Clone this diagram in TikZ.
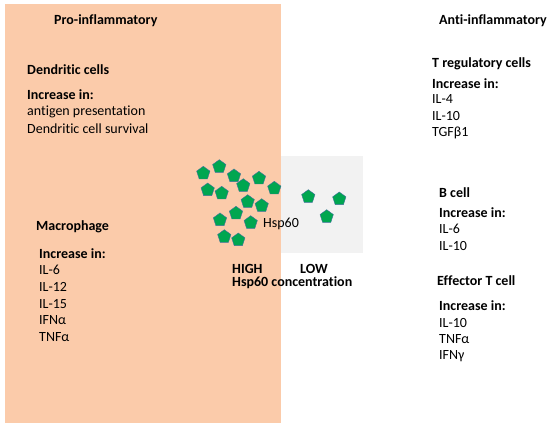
\documentclass[tikz,border=0pt]{standalone}
\usepackage{fontspec}
\setmainfont[Ligatures=NoCommon]{Carlito}
\usetikzlibrary{shapes.geometric}
\definecolor{proorange}{HTML}{FBCBAA}
\definecolor{lowgray}{HTML}{F2F2F2}
\definecolor{hspgreen}{HTML}{00A650}
\definecolor{hspedge}{HTML}{41719C}
\tikzset{
  lbl/.style={anchor=west,inner sep=0pt,font=\fontsize{14}{16}\selectfont},
  hdr/.style={lbl,font=\fontsize{14}{16}\selectfont\bfseries},
  hsp/.style={regular polygon,regular polygon sides=5,minimum size=14pt,inner sep=0pt,fill=hspgreen,draw=hspedge,line width=0.4pt}
}
\begin{document}
\begin{tikzpicture}[x=1pt,y=-1pt]
\useasboundingbox (0,0) rectangle (550,427);
\fill[white] (0,0) rectangle (550,427);
\fill[proorange] (5,4) rectangle (281,423);
\fill[lowgray] (281,156) rectangle (363,253);
% left
\node[hdr] (pro) at (54,21) {Pro-inflammatory};
\node[hdr] (dc) at (27,70) {Dendritic cells};
\node[hdr] (dcinc) at (27,95) {Increase in:};
\node[lbl] (dc1) at (27,112) {antigen presentation};
\node[lbl] (dc2) at (27,129) {Dendritic cell survival};
\node[hdr] (mac) at (36,227) {Macrophage};
\node[hdr] (macinc) at (39,254) {Increase in:};
\node[lbl] (m1) at (39,270) {IL-6};
\node[lbl] (m2) at (39,287) {IL-12};
\node[lbl] (m3) at (39,304) {IL-15};
\node[lbl] (m4) at (39,320) {IFNα};
\node[lbl] (m5) at (39,337) {TNFα};
% right
\node[hdr] (anti) at (439,21) {Anti-inflammatory};
\node[hdr] (treg) at (432,64) {T regulatory cells};
\node[hdr] (treginc) at (432,84) {Increase in:};
\node[lbl] (t1) at (432,99) {IL-4};
\node[lbl] (t2) at (432,116) {IL-10};
\node[lbl] (t3) at (432,133) {TGFβ1};
\node[hdr] (bc) at (439,193) {B cell};
\node[hdr] (bcinc) at (439,213) {Increase in:};
\node[lbl] (b1) at (439,229) {IL-6};
\node[lbl] (b2) at (439,246) {IL-10};
\node[hdr] (eff) at (437,281) {Effector T cell};
\node[hdr] (effinc) at (439,306) {Increase in:};
\node[lbl] (e1) at (439,323) {IL-10};
\node[lbl] (e2) at (439,339) {TNFα};
\node[lbl] (e3) at (439,356) {IFNγ};
% center
\node[lbl] (hsp) at (263,224) {Hsp60};
\node[hdr] (high) at (232,269) {HIGH};
\node[hdr] (low) at (300,269) {LOW};
\node[hdr] (conc) at (232,283) {Hsp60 concentration};
% pentagons
\foreach \i/\x/\y in {1/203.3/173.3, 2/219.3/166.7, 3/234/176, 4/259/178.3, 5/243.3/185.7,
  6/207.7/190, 7/221.7/193.3, 8/274.3/188.3, 9/247.7/201.7, 10/261.7/205.7,
  11/236/213.3, 12/220/220, 13/250.7/222.7, 14/224.3/236.7, 15/238.3/240,
  16/308.3/196.7, 17/339.3/199, 18/326.7/216.7}
  \node[hsp] (p\i) at (\x,\y) {};
\end{tikzpicture}
\end{document}
